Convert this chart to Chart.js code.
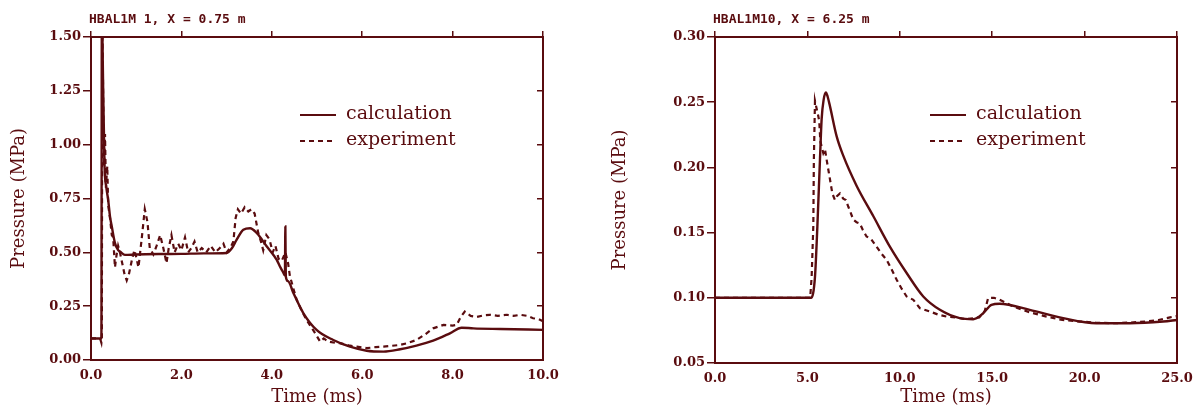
<!DOCTYPE html>
<html>
<head>
<meta charset="utf-8">
<script src="https://cdn.jsdelivr.net/npm/chart.js@4.4.1/dist/chart.umd.min.js"></script>
<style>
  body { margin: 0; background: #fff; }
  .panel { position: absolute; top: 0; width: 601px; height: 412px; }
</style>
</head>
<body>
<div class="panel" style="left:0"><canvas id="hbal1" width="601" height="412"></canvas></div>
<div class="panel" style="left:601px"><canvas id="hbal10" width="601" height="412"></canvas></div>
<script>
// HBAL1M 1 (x = 0.75 m): time in ms, pressure in MPa
const calcTime1 = [0, 0.23, 0.24, 0.27, 0.30, 0.34, 0.38, 0.42, 0.46, 0.53, 0.60, 0.64, 0.75, 1.0, 1.5, 2.0, 2.5, 3.0, 3.12, 3.22, 3.37, 3.52, 3.67, 3.89, 4.11, 4.18, 4.25, 4.29, 4.30, 4.31, 4.36, 4.48, 4.70, 4.99, 5.36, 5.73, 6.10, 6.47, 6.84, 7.20, 7.57, 7.94, 8.20, 8.46, 9.05, 10.0];
const calcPress1 = [0.10, 0.10, 1.60, 1.25, 0.90, 0.80, 0.744, 0.667, 0.62, 0.543, 0.51, 0.504, 0.488, 0.49, 0.492, 0.493, 0.495, 0.497, 0.52, 0.558, 0.605, 0.612, 0.589, 0.527, 0.465, 0.434, 0.408, 0.392, 0.62, 0.388, 0.366, 0.31, 0.217, 0.14, 0.093, 0.062, 0.043, 0.039, 0.05, 0.067, 0.09, 0.124, 0.15, 0.147, 0.144, 0.14];
const expTime1 = [0, 0.20, 0.23, 0.24, 0.25, 0.27, 0.29, 0.31, 0.33, 0.36, 0.38, 0.42, 0.46, 0.49, 0.53, 0.56, 0.60, 0.64, 0.68, 0.74, 0.79, 0.84, 0.90, 0.96, 1.01, 1.05, 1.12, 1.19, 1.25, 1.30, 1.38, 1.45, 1.53, 1.60, 1.67, 1.72, 1.78, 1.85, 1.93, 2.00, 2.08, 2.15, 2.22, 2.29, 2.36, 2.45, 2.55, 2.65, 2.75, 2.85, 2.93, 3.00, 3.08, 3.15, 3.20, 3.25, 3.32, 3.40, 3.48, 3.55, 3.62, 3.70, 3.76, 3.81, 3.88, 3.95, 4.02, 4.08, 4.15, 4.22, 4.30, 4.36, 4.40, 4.48, 4.55, 4.66, 4.77, 4.88, 4.96, 5.07, 5.15, 5.25, 5.40, 5.51, 5.70, 5.88, 6.10, 6.30, 6.47, 6.65, 6.84, 7.00, 7.20, 7.40, 7.57, 7.80, 8.00, 8.09, 8.18, 8.27, 8.40, 8.53, 8.70, 8.82, 9.00, 9.20, 9.35, 9.50, 9.65, 9.78, 9.90, 10.0];
const expPress1 = [0.10, 0.10, 0.08, 0.10, 1.60, 1.20, 0.90, 1.05, 0.80, 0.90, 0.72, 0.66, 0.58, 0.57, 0.43, 0.48, 0.53, 0.50, 0.46, 0.40, 0.37, 0.40, 0.46, 0.51, 0.47, 0.43, 0.56, 0.70, 0.64, 0.52, 0.49, 0.53, 0.58, 0.52, 0.45, 0.52, 0.58, 0.50, 0.54, 0.51, 0.57, 0.50, 0.52, 0.55, 0.50, 0.52, 0.50, 0.53, 0.50, 0.52, 0.54, 0.50, 0.52, 0.55, 0.66, 0.70, 0.68, 0.71, 0.69, 0.70, 0.68, 0.59, 0.55, 0.51, 0.58, 0.56, 0.50, 0.53, 0.47, 0.46, 0.50, 0.45, 0.39, 0.33, 0.28, 0.23, 0.186, 0.15, 0.124, 0.085, 0.10, 0.085, 0.08, 0.078, 0.068, 0.062, 0.055, 0.06, 0.062, 0.066, 0.07, 0.078, 0.093, 0.12, 0.147, 0.163, 0.16, 0.163, 0.20, 0.225, 0.205, 0.20, 0.208, 0.21, 0.205, 0.21, 0.205, 0.21, 0.205, 0.194, 0.19, 0.18];

// HBAL1M10 (x = 6.25 m)
const calcTime10 = [0, 5.20, 5.41, 5.54, 5.68, 5.77, 5.88, 6.00, 6.10, 6.22, 6.58, 6.94, 7.66, 8.57, 9.47, 10.37, 11.27, 12.17, 13.24, 13.97, 14.50, 14.96, 15.40, 17.03, 18.84, 20.64, 22.45, 24.25, 25.0];
const calcPress10 = [0.100, 0.100, 0.116, 0.155, 0.206, 0.237, 0.252, 0.2575, 0.254, 0.247, 0.224, 0.209, 0.186, 0.1625, 0.139, 0.119, 0.101, 0.0908, 0.0844, 0.0836, 0.088, 0.0946, 0.0954, 0.0908, 0.0844, 0.0805, 0.0805, 0.0818, 0.083];
const expTime10 = [0, 5.15, 5.23, 5.32, 5.35, 5.41, 5.50, 5.58, 5.64, 5.70, 5.77, 5.86, 5.95, 6.04, 6.22, 6.35, 6.49, 6.60, 6.76, 6.94, 7.08, 7.21, 7.35, 7.48, 7.66, 7.84, 8.00, 8.20, 8.45, 8.75, 9.00, 9.29, 9.55, 9.83, 10.10, 10.37, 10.73, 11.09, 11.63, 12.10, 12.53, 13.00, 13.60, 14.30, 14.60, 14.78, 15.10, 15.40, 16.14, 17.00, 17.94, 18.80, 19.75, 20.60, 21.55, 22.50, 23.35, 24.00, 24.62, 25.0];
const expPress10 = [0.100, 0.100, 0.116, 0.155, 0.206, 0.251, 0.245, 0.240, 0.2356, 0.220, 0.216, 0.211, 0.214, 0.206, 0.191, 0.180, 0.175, 0.178, 0.180, 0.176, 0.175, 0.170, 0.165, 0.160, 0.158, 0.157, 0.152, 0.147, 0.145, 0.139, 0.134, 0.129, 0.122, 0.1138, 0.107, 0.101, 0.0985, 0.092, 0.0895, 0.087, 0.0856, 0.085, 0.0836, 0.085, 0.090, 0.0998, 0.100, 0.0985, 0.0933, 0.089, 0.0856, 0.083, 0.0818, 0.081, 0.0805, 0.081, 0.0818, 0.083, 0.085, 0.086];

const seriesNames = ["calculation", "experiment"];

const INK = "#5a0c0f";
const SERIF = "'DejaVu Serif', serif";

const zip = (xs, ys) => xs.map((x, i) => ({ x: x, y: ys[i] }));

// caption above the frame, e.g. "HBAL1M 1, X = 0.75 m"
const panelTitle = {
  id: "panelTitle",
  afterDraw(chart, args, opts) {
    const ctx = chart.ctx;
    ctx.save();
    ctx.fillStyle = INK;
    ctx.font = "bold 13px 'DejaVu Sans Mono', monospace";
    ctx.textBaseline = "middle";
    ctx.fillText(opts.text, chart.chartArea.left - 2, 20);
    ctx.restore();
  }
};

// key inside the plot, styled after the datasets
const panelKey = {
  id: "panelKey",
  afterDraw(chart, args, opts) {
    const ctx = chart.ctx;
    const x0 = chart.chartArea.left + opts.dx;
    ctx.save();
    chart.data.datasets.forEach((ds, i) => {
      const y = opts.y + i * 26;
      ctx.strokeStyle = ds.borderColor;
      ctx.lineWidth = 2;
      ctx.setLineDash(ds.borderDash || []);
      ctx.beginPath();
      ctx.moveTo(x0, y);
      ctx.lineTo(x0 + 36, y);
      ctx.stroke();
      ctx.setLineDash([]);
      ctx.fillStyle = INK;
      ctx.font = "19px " + SERIF;
      ctx.textBaseline = "middle";
      ctx.fillText(ds.label, x0 + 46, y - 1);
    });
    ctx.restore();
  }
};

function pressureChart(id, cfg) {
  const tickFont = { family: SERIF, size: 13, weight: "bold" };
  return new Chart(document.getElementById(id), {
    type: "line",
    data: {
      datasets: [
        {
          label: seriesNames[0],
          data: zip(cfg.calcT, cfg.calcP),
          borderColor: INK,
          borderWidth: 2.4,
          pointRadius: 0,
          cubicInterpolationMode: "monotone"
        },
        {
          label: seriesNames[1],
          data: zip(cfg.expT, cfg.expP),
          borderColor: INK,
          borderWidth: 2.2,
          borderDash: [5, 4],
          pointRadius: 0,
          tension: 0
        }
      ]
    },
    options: {
      responsive: false,
      animation: false,
      events: [],
      layout: { padding: { top: 37, right: 601 - cfg.right, left: 0, bottom: 0 } },
      plugins: {
        legend: { display: false },
        tooltip: { enabled: false },
        panelTitle: { text: cfg.title },
        panelKey: { dx: cfg.keyDx, y: 115 }
      },
      scales: {
        x: {
          type: "linear",
          position: "bottom",
          min: cfg.xMin, max: cfg.xMax,
          ticks: { stepSize: cfg.xStep, color: INK, font: tickFont, padding: 8, maxRotation: 0,
                   callback: v => v.toFixed(1) },
          grid: { drawOnChartArea: false, drawTicks: false },
          border: { display: true, color: INK, width: 2 },
          title: { display: true, text: "Time (ms)", color: INK, font: { family: SERIF, size: 18 }, padding: 4 },
          afterFit: s => { s.height = 412 - cfg.bottom; }
        },
        xTop: {
          type: "linear",
          position: "top",
          min: cfg.xMin, max: cfg.xMax,
          ticks: { display: false, stepSize: cfg.xStep },
          grid: { drawOnChartArea: false, drawTicks: true, tickLength: 6, color: INK, lineWidth: 1.5 },
          border: { display: true, color: INK, width: 2 },
          afterFit: s => { s.height = 0; }
        },
        y: {
          type: "linear",
          position: "left",
          min: cfg.yMin, max: cfg.yMax,
          ticks: { stepSize: cfg.yStep, color: INK, font: tickFont, padding: 2,
                   callback: v => v.toFixed(2) },
          grid: { drawOnChartArea: false, drawTicks: true, tickLength: 8, color: INK, lineWidth: 1.5 },
          border: { display: true, color: INK, width: 2 },
          title: { display: true, text: "Pressure (MPa)", color: INK, font: { family: SERIF, size: 18 }, padding: 9 },
          afterFit: s => { s.width = cfg.left; }
        },
        yRight: {
          type: "linear",
          position: "right",
          min: cfg.yMin, max: cfg.yMax,
          ticks: { display: false, stepSize: cfg.yStep },
          grid: { drawOnChartArea: false, drawTicks: true, tickLength: -6, color: INK, lineWidth: 1.5 },
          border: { display: true, color: INK, width: 2 },
          afterFit: s => { s.width = 0; }
        }
      }
    },
    plugins: [panelTitle, panelKey]
  });
}

pressureChart("hbal1", {
  title: "HBAL1M 1, X = 0.75 m",
  calcT: calcTime1, calcP: calcPress1, expT: expTime1, expP: expPress1,
  xMin: 0, xMax: 10, xStep: 2,
  yMin: 0, yMax: 1.5, yStep: 0.25,
  left: 91, right: 543, bottom: 360, keyDx: 209
});

pressureChart("hbal10", {
  title: "HBAL1M10, X = 6.25 m",
  calcT: calcTime10, calcP: calcPress10, expT: expTime10, expP: expPress10,
  xMin: 0, xMax: 25, xStep: 5,
  yMin: 0.05, yMax: 0.30, yStep: 0.05,
  left: 114, right: 576, bottom: 363, keyDx: 215
});
</script>
</body>
</html>
